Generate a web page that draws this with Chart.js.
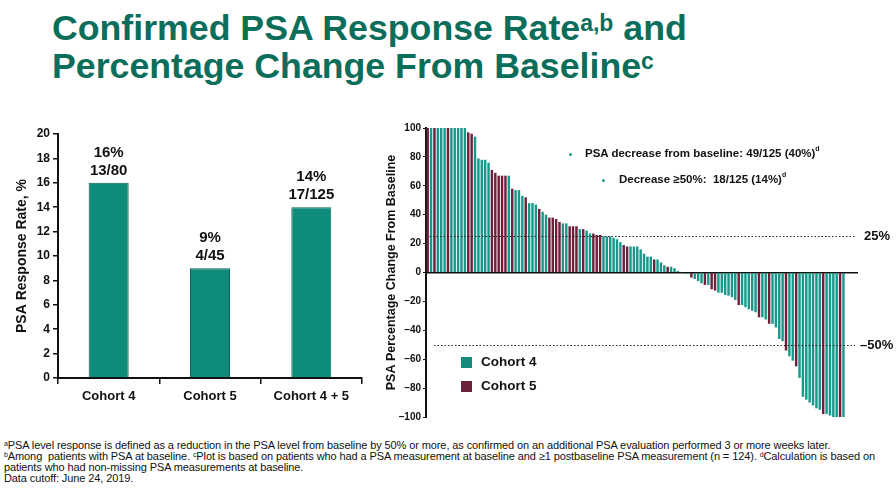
<!DOCTYPE html>
<html><head><meta charset="utf-8">
<script src="https://cdn.jsdelivr.net/npm/chart.js@4.4.1/dist/chart.umd.min.js"></script>
<style>
html,body{margin:0;padding:0;}
body{width:896px;height:490px;background:#fff;position:relative;overflow:hidden;font-family:"Liberation Sans",Arial,sans-serif;}
#title{position:absolute;left:52px;top:9px;color:#0b6e5b;font-weight:bold;font-size:35.7px;line-height:38px;white-space:nowrap;}
#title sup{font-size:23px;line-height:0;vertical-align:baseline;position:relative;top:-9px;}
#leftWrap{position:absolute;left:0;top:115px;width:380px;height:300px;}
#rightWrap{position:absolute;left:380px;top:115px;width:516px;height:310px;}
.ann{position:absolute;font-weight:bold;font-size:11.5px;color:#111;white-space:nowrap;}
.ann sup{font-size:7px;line-height:0;position:relative;top:-1px;}
.bul{position:absolute;width:3px;height:3px;border-radius:50%;background:#1a9e8c;}
.leg{position:absolute;font-weight:bold;font-size:13.5px;color:#111;white-space:nowrap;}
.sw{position:absolute;width:11px;height:11px;}
#foot{position:absolute;left:4px;top:439.6px;font-family:"Liberation Sans",Arial,sans-serif;font-size:11px;letter-spacing:-0.1px;line-height:11.3px;color:#111;white-space:nowrap;}
#foot sup{font-size:7px;line-height:0;vertical-align:baseline;position:relative;top:-3px;}
</style>
</head><body>
<div id="title">Confirmed PSA Response Rate<sup>a,b</sup> and<br>Percentage Change From Baseline<sup>c</sup></div>
<div id="leftWrap"><canvas id="c1" width="380" height="300"></canvas></div>
<div id="rightWrap"><canvas id="c2" width="516" height="310"></canvas></div>

<div class="bul" style="left:569px;top:153px;"></div>
<div class="ann" style="left:585px;top:147px;">PSA decrease from baseline: 49/125 (40%)<sup>d</sup></div>
<div class="bul" style="left:602px;top:179px;"></div>
<div class="ann" style="left:619px;top:173px;">Decrease ≥50%:&nbsp; 18/125 (14%)<sup>d</sup></div>

<div class="sw" style="left:461px;top:357px;background:#168a7c;"></div>
<div class="leg" style="left:481px;top:354px;">Cohort 4</div>
<div class="sw" style="left:461px;top:381px;background:#6b2138;"></div>
<div class="leg" style="left:481px;top:378px;">Cohort 5</div>

<div id="foot"><sup>a</sup>PSA level response is defined as a reduction in the PSA level from baseline by 50% or more, as confirmed on an additional PSA evaluation performed 3 or more weeks later.<br><sup>b</sup>Among&nbsp; patients with PSA at baseline. <sup>c</sup>Plot is based on patients who had a PSA measurement at baseline and ≥1 postbaseline PSA measurement (n = 124). <sup>d</sup>Calculation is based on<br>patients who had non-missing PSA measurements at baseline.<br>Data cutoff: June 24, 2019.</div>

<script>
// ---- Left chart data ----
const cohorts = ['Cohort 4', 'Cohort 5', 'Cohort 4 + 5'];
const responseRates = [16, 9, 14];
const rateLabels = ['16%', '9%', '14%'];
const fractionLabels = ['13/80', '4/45', '17/125'];
const rateTicks = [0, 2, 4, 6, 8, 10, 12, 14, 16, 18, 20];

// ---- Waterfall data (124 patients) ----
const waterfallValues = [
  100, 100, 100, 100, 100, 100, 100, 100, 100, 100, 100, 100,
  97, 96, 94, 79, 78, 78, 76, 71, 69, 67, 67, 67, 67,
  58, 57, 57, 53, 52, 48, 48, 47, 44, 42, 40, 38, 38, 37, 35,
  34, 34, 32, 32, 32, 30, 30, 29, 27, 27, 26, 26, 25, 25, 25,
  24, 23, 21, 19, 18, 18, 18, 18, 16, 13, 11, 11, 9, 9, 7,
  5, 4, 4, 3, 1,
  -0.3, -0.5, -1, -3.5, -4.5, -6, -7.5, -8.6, -8.6, -11.6, -12.5, -14, -14,
  -15.5, -16, -17, -19, -22.5, -22.5, -24, -25.5, -26.5, -27.5, -31, -31,
  -32.5, -35.5, -35.5, -38, -46, -47.5, -54, -58, -61, -65, -73, -86,
  -88, -90, -92, -94, -95, -98, -98, -99, -100, -100, -100, -100
];
const waterfallCohort = [
  5, 4, 5, 4, 4, 4, 5, 4, 4, 4, 4, 4,
  5, 5, 4, 4, 4, 4, 4, 5, 5, 5, 5, 5, 4,
  5, 4, 4, 4, 5, 4, 4, 4, 5, 4, 4, 5, 5, 5, 5,
  4, 4, 5, 5, 5, 4, 5, 4, 4, 5, 5, 5, 4, 4, 4,
  4, 4, 4, 5, 5, 4, 4, 4, 4, 4, 4, 4, 5, 4, 4,
  4, 5, 4, 4, 4,
  4, 4, 4, 5, 4, 4, 4, 5, 4, 5, 5, 4, 4,
  4, 4, 4, 4, 5, 4, 4, 4, 4, 4, 5, 4,
  4, 5, 4, 4, 4, 4, 5, 4, 4, 5, 4, 4,
  4, 4, 4, 4, 4, 5, 4, 4, 4, 4, 5, 4, 4
];
const changeTicks = [-100, -80, -60, -40, -20, 0, 20, 40, 60, 80, 100];
const refLevels = [25, -50];
const refLabels = ['25%', '\u201350%'];

const TEAL_BAR = '#0f8b7a';
const TEAL = '#17988a';
const MAROON = '#6d1f3c';
const FONT = '"Liberation Sans", Arial, sans-serif';

// ---- Left chart ----
const barLabelPlugin = {
  id: 'barLabels',
  afterDatasetsDraw(chart) {
    const ctx = chart.ctx;
    const meta = chart.getDatasetMeta(0);
    ctx.save();
    ctx.fillStyle = '#111';
    ctx.font = 'bold 15px ' + FONT;
    ctx.textAlign = 'center';
    ctx.textBaseline = 'middle';
    meta.data.forEach((bar, i) => {
      ctx.fillText(rateLabels[i], bar.x, bar.y - 30);
      ctx.fillText(fractionLabels[i], bar.x, bar.y - 12);
    });
    ctx.restore();
  }
};

new Chart(document.getElementById('c1'), {
  type: 'bar',
  data: {
    labels: cohorts,
    datasets: [{
      data: responseRates,
      backgroundColor: TEAL_BAR,
      borderColor: '#0a6155',
      borderWidth: 1,
      barPercentage: 0.395,
      categoryPercentage: 1
    }]
  },
  options: {
    responsive: false,
    animation: false,
    events: [],
    layout: { padding: { top: 19, right: 18, bottom: 0, left: 14 } },
    plugins: { legend: { display: false }, tooltip: { enabled: false } },
    scales: {
      y: {
        min: 0, max: 20,
        afterBuildTicks(scale) { scale.ticks = rateTicks.map(v => ({ value: v })); },
        afterFit(scale) { scale.width = 44; },
        ticks: { color: '#111', font: { family: FONT, size: 12, weight: 'bold' }, padding: 3 },
        grid: { drawOnChartArea: false, color: '#111', tickLength: 5, lineWidth: 1.5 },
        border: { color: '#111', width: 2 },
        title: { display: true, text: 'PSA Response Rate, %', color: '#111', font: { family: FONT, size: 14, weight: 'bold' }, padding: { top: 0, bottom: 2 } }
      },
      x: {
        afterFit(scale) { scale.height = 37; },
        ticks: { color: '#111', font: { family: FONT, size: 13, weight: 'bold' }, padding: 5 },
        grid: { offset: true, drawOnChartArea: false, color: '#111', tickLength: 6, lineWidth: 1.5 },
        border: { color: '#111', width: 2 }
      }
    }
  },
  plugins: [barLabelPlugin]
});

// ---- Right chart (waterfall) ----
const refLinePlugin = {
  id: 'refLines',
  afterDatasetsDraw(chart) {
    const ctx = chart.ctx;
    const ys = chart.scales.y;
    const area = chart.chartArea;
    ctx.save();
    refLevels.forEach((lv, i) => {
      const y = Math.round(ys.getPixelForValue(lv)) + 0.5;
      ctx.strokeStyle = '#222';
      ctx.lineWidth = 1;
      ctx.setLineDash([1.5, 2]);
      ctx.beginPath();
      ctx.moveTo(area.left + (i === 0 ? 0 : 8), y);
      ctx.lineTo(area.right - 2, y);
      ctx.stroke();
      ctx.setLineDash([]);
      ctx.fillStyle = '#111';
      ctx.font = 'bold 13px ' + FONT;
      ctx.textAlign = 'left';
      ctx.textBaseline = 'middle';
      ctx.fillText(refLabels[i], area.right + (i === 0 ? 7 : 3), y);
    });
    ctx.restore();
  }
};

new Chart(document.getElementById('c2'), {
  type: 'bar',
  data: {
    datasets: [{
      data: waterfallValues.map((v, i) => ({ x: i + 1, y: v })),
      backgroundColor: waterfallCohort.map(c => c === 4 ? TEAL : MAROON),
      borderWidth: 0,
      barPercentage: 0.72,
      categoryPercentage: 1
    }]
  },
  options: {
    responsive: false,
    animation: false,
    events: [],
    layout: { padding: { top: 13, right: 39, bottom: 6, left: 4 } },
    plugins: { legend: { display: false }, tooltip: { enabled: false } },
    scales: {
      x: {
        type: 'linear',
        position: { y: 0 },
        offset: false,
        min: 0.5, max: 128,
        ticks: { display: false },
        grid: { display: false },
        border: { color: '#111', width: 1.5 }
      },
      y: {
        min: -100, max: 100,
        afterBuildTicks(scale) { scale.ticks = changeTicks.map(v => ({ value: v })); },
        afterFit(scale) { scale.width = 42; },
        ticks: {
          color: '#111', font: { family: FONT, size: 10, weight: 'bold' }, padding: 2,
          callback: v => v < 0 ? '\u2013' + Math.abs(v) : String(v)
        },
        grid: { drawOnChartArea: false, color: '#111', tickLength: 3 },
        border: { color: '#111', width: 2 },
        title: { display: true, text: 'PSA Percentage Change From Baseline', color: '#111', font: { family: FONT, size: 12.5, weight: 'bold' }, padding: { top: 0, bottom: 1 } }
      }
    }
  },
  plugins: [refLinePlugin]
});
</script>
</body></html>
